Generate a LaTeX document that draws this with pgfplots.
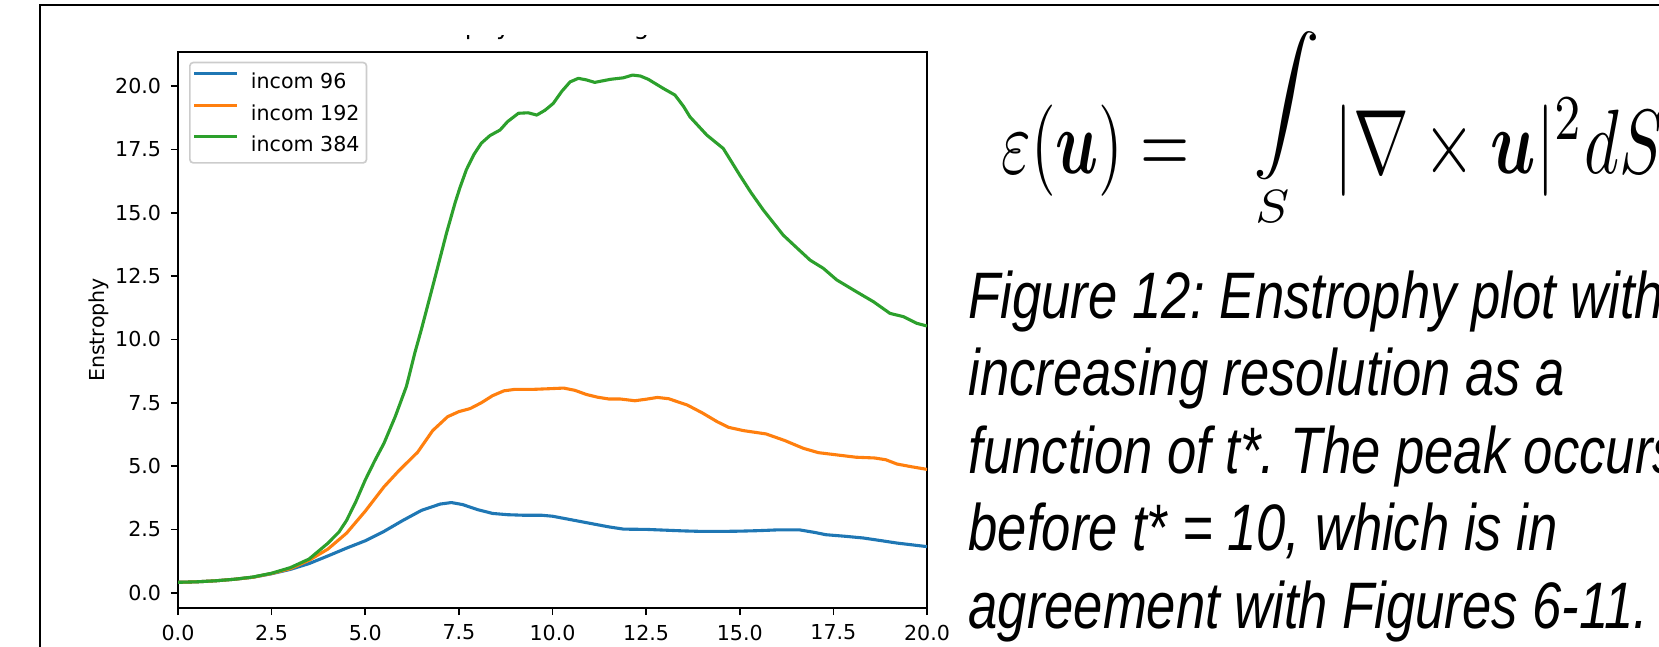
\documentclass[border=0pt]{standalone}
\usepackage{fontspec}
\usepackage{amsmath}
\usepackage{graphicx}
\usepackage{pgfplots}
\pgfplotsset{compat=1.18}

\newfontfamily\dejavu{DejaVu Sans}
\newfontfamily\capfont{Liberation Sans}[FakeStretch=0.80]
\newcommand\tickfont{\dejavu\fontsize{5.86}{7}\selectfont}
\newcommand\titlefont{\dejavu\fontsize{7}{8.4}\selectfont}
\newcommand\captionfont{\capfont\itshape\fontsize{18.7}{22}\selectfont\frenchspacing}

\definecolor{tabblue}{HTML}{1F77B4}
\definecolor{taborange}{HTML}{FF7F0E}
\definecolor{tabgreen}{HTML}{2CA02C}

\begin{document}
\begin{tikzpicture}
\useasboundingbox (0,0) rectangle (16.59,6.46);
\clip (0,0) rectangle (16.59,6.46);

% slide frame
\draw[line width=0.2mm] (0.403,-0.1) -- (0.403,6.408) -- (16.8,6.408);

% plot title, only its lower part shows below the slide cut
\begin{scope}
\clip (3.0,6.10) rectangle (8.5,5.96);
\node[anchor=base, inner sep=0, font=\titlefont] at (5.525,6.11) {Enstrophy for Scaling Tests};
\end{scope}

\begin{axis}[
  at={(1.78cm,0.38cm)}, anchor=south west,
  scale only axis, width=7.49cm, height=5.56cm,
  xmin=0, xmax=20, ymin=-0.604, ymax=21.35,
  xtick={0,2.5,5,7.5,10,12.5,15,17.5,20},
  xticklabels={0.0,2.5,5.0,7.5,10.0,12.5,15.0,17.5,20.0},
  ytick={0,2.5,5,7.5,10,12.5,15,17.5,20},
  yticklabels={0.0,2.5,5.0,7.5,10.0,12.5,15.0,17.5,20.0},
  tick align=outside, xtick pos=bottom, ytick pos=left,
  major tick length=0.72mm,
  every tick/.style={black, line width=0.165mm},
  axis line style={line width=0.165mm},
  tick label style={font=\tickfont, inner sep=0.9mm},
  ylabel={Enstrophy},
  ylabel style={font=\tickfont, at={(axis description cs:-0.0975,0.5)}, anchor=base, inner sep=0},
  legend cell align=left,
  legend image code/.code={\draw[#1,line width=0.31mm] (0mm,0.75mm) -- (4.3mm,0.75mm);},
  legend style={
    at={(axis description cs:0.0147,0.9826)}, anchor=north west,
    draw=black!20, line width=0.165mm, rounded corners=0.35mm,
    fill=white, font=\tickfont,
    inner xsep=0.3mm, inner ysep=0.7mm,
    row sep=0.87mm, column sep=0.8mm,
    nodes={inner sep=0.4mm, text height=1.5mm, text depth=0mm}
  },
  every axis plot/.append style={line width=0.31mm, line join=round},
]
\addplot[tabblue] coordinates {
(0,0.41) (0.5,0.43) (1,0.47) (1.5,0.53) (2,0.61) (2.5,0.75) (3,0.92) (3.5,1.15)
(4,1.45) (4.5,1.76) (5,2.05) (5.5,2.42) (6,2.85) (6.5,3.25) (7,3.5) (7.3,3.56)
(7.6,3.48) (8,3.28) (8.4,3.13) (8.8,3.08) (9.2,3.06) (9.7,3.06) (10,3.02)
(10.5,2.88) (11,2.74) (11.5,2.6) (11.9,2.51) (12.5,2.5) (13,2.47) (13.5,2.44)
(14,2.42) (14.5,2.42) (15,2.43) (15.5,2.45) (16,2.48) (16.6,2.48) (17,2.38)
(17.3,2.29) (17.8,2.23) (18.3,2.16) (18.8,2.05) (19.2,1.96) (19.6,1.89) (20,1.82)
};
\addlegendentry{incom 96}
\addplot[taborange] coordinates {
(0,0.41) (0.5,0.43) (1,0.47) (1.5,0.53) (2,0.61) (2.5,0.76) (3,0.95) (3.5,1.28)
(4,1.72) (4.5,2.35) (5,3.22) (5.5,4.18) (5.9,4.82) (6.4,5.55) (6.8,6.4) (7.2,6.95)
(7.5,7.15) (7.8,7.27) (8.1,7.5) (8.4,7.78) (8.7,7.97) (9.0,8.03) (9.5,8.03)
(10,8.06) (10.3,8.08) (10.6,7.99) (10.9,7.83) (11.2,7.72) (11.5,7.65) (11.8,7.65)
(12.2,7.58) (12.5,7.64) (12.8,7.71) (13.1,7.66) (13.6,7.41) (14.0,7.1) (14.4,6.75)
(14.7,6.53) (15.1,6.4) (15.7,6.27) (16.2,6.01) (16.7,5.7) (17.1,5.53) (17.6,5.44)
(18.1,5.35) (18.6,5.32) (18.9,5.25) (19.2,5.08) (19.6,4.97) (20,4.87)
};
\addlegendentry{incom 192}
\addplot[tabgreen] coordinates {
(0,0.41) (0.5,0.43) (1,0.47) (1.5,0.53) (2,0.62) (2.5,0.77) (3,0.99) (3.5,1.33)
(4,1.95) (4.3,2.4) (4.5,2.85) (4.75,3.6) (5.0,4.45) (5.25,5.2) (5.5,5.9) (5.8,6.95)
(6.1,8.15) (6.33,9.5) (6.5,10.4) (6.82,12.2) (7.17,14.2) (7.4,15.4) (7.53,16.0)
(7.7,16.7) (7.9,17.3) (8.1,17.75) (8.33,18.05) (8.6,18.27) (8.8,18.6) (9.09,18.93)
(9.35,18.95) (9.58,18.86) (9.8,19.05) (10.02,19.32) (10.25,19.8) (10.47,20.17)
(10.69,20.31) (10.9,20.25) (11.13,20.15) (11.54,20.27) (11.89,20.33) (12.14,20.44)
(12.35,20.4) (12.56,20.27) (12.96,19.91) (13.27,19.65) (13.5,19.2) (13.67,18.79)
(14.12,18.07) (14.56,17.54) (15.0,16.49) (15.3,15.8) (15.63,15.11) (16.16,14.12)
(16.5,13.65) (16.88,13.13) (17.23,12.81) (17.59,12.35) (18.12,11.88) (18.57,11.49)
(19.01,11.03) (19.37,10.9) (19.72,10.64) (20,10.53)
};
\addlegendentry{incom 384}
\end{axis}

% enstrophy definition: integrand row, integral sign with its domain below
\node[anchor=base west, inner sep=0] at (10.01,4.73)
  {\scalebox{1.8}[2.6]{$\varepsilon(\boldsymbol{u}) =$}};
\node[anchor=base west, inner sep=0] at (12.53,5.24)
  {\scalebox{1.9}{$\displaystyle\int\limits_S$}};
\node[anchor=base west, inner sep=0] at (13.34,4.73)
  {\scalebox{1.9}[2.6]{$|\nabla\times\boldsymbol{u}|^2 dS$}};

% caption
\node[anchor=base west, inner sep=0, font=\captionfont] at (9.68,3.28) {Figure 12: Enstrophy plot with};
\node[anchor=base west, inner sep=0, font=\captionfont] at (9.68,2.505) {increasing resolution as a};
\node[anchor=base west, inner sep=0, font=\captionfont] at (9.68,1.73) {function of t*. The peak occurs};
\node[anchor=base west, inner sep=0, font=\captionfont] at (9.68,0.955) {before t* = 10, which is in};
\node[anchor=base west, inner sep=0, font=\captionfont] at (9.68,0.18) {agreement with Figures 6-11.};
\end{tikzpicture}
\end{document}
